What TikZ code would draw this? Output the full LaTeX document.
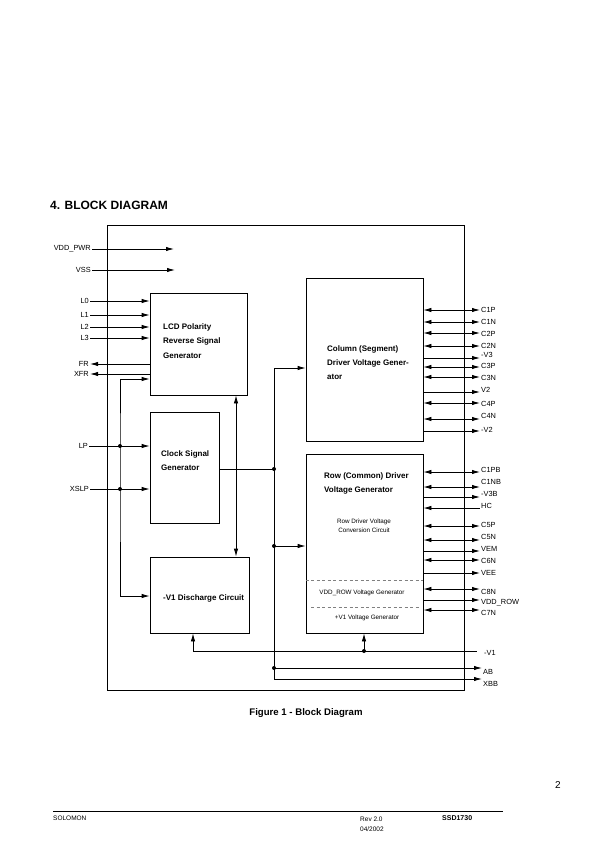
\documentclass[tikz,border=0pt]{standalone}
\usepackage{fontspec}
\setmainfont{Liberation Sans}
\usetikzlibrary{arrows.meta}

\begin{document}
\begin{tikzpicture}[x=1pt, y=-1pt, >={Latex[length=8pt,width=4.4pt]},
  blk/.style={draw, line width=0.8pt, inner sep=0pt},
  blktxt/.style={anchor=west, align=left, inner sep=0pt, font=\fontsize{8}{14.3}\selectfont\bfseries},
  subtxt/.style={align=center, inner sep=0pt, font=\fontsize{6.3}{8.6}\selectfont},
  pin/.style={inner sep=1pt, font=\fontsize{7.4}{8}\selectfont},
  wire/.style={line width=0.8pt},
  sep/.style={gray, line width=0.5pt, dash pattern=on 3pt off 2.5pt},
  jdot/.style={fill=black}]
\useasboundingbox (0,0) rectangle (595,842);

% heading and caption
\node[anchor=west, inner sep=0pt, font=\fontsize{12}{14}\selectfont\bfseries] (title) at (50,205) {4. BLOCK DIAGRAM};
\node[inner sep=0pt, font=\fontsize{9.6}{11}\selectfont\bfseries] (caption) at (306,713) {Figure 1 - Block Diagram};

% blocks
\node[blk, minimum width=357pt, minimum height=465pt] (frame) at (285.5,457.5) {};
\node[blk, minimum width=97pt, minimum height=102pt] (lcd) at (198.5,344) {};
\node[blk, minimum width=69pt, minimum height=111pt] (clk) at (184.5,467.5) {};
\node[blk, minimum width=99pt, minimum height=76pt] (dis) at (199.5,595) {};
\node[blk, minimum width=117pt, minimum height=163pt] (col) at (364.5,359.5) {};
\node[blk, minimum width=117pt, minimum height=179pt] (row) at (364.5,543.5) {};

\node[blktxt] (lcdtxt) at (163,341) {LCD Polarity\\Reverse Signal\\Generator};
\node[blktxt] (clktxt) at (161,460.5) {Clock Signal\\Generator};
\node[blktxt] (distxt) at (163,598) {-V1 Discharge Circuit};
\node[blktxt] (coltxt) at (327,362.5) {Column (Segment)\\Driver Voltage Gener-\\ator};
\node[blktxt] (rowtxt) at (324,483.5) {Row (Common) Driver\\Voltage Generator};
\node[subtxt] (convtxt) at (364,526) {Row Driver Voltage\\Conversion Circuit};
\node[subtxt] (vddtxt) at (362,593) {VDD\_ROW Voltage Generator};
\node[subtxt] (v1txt) at (367,618) {+V1 Voltage Generator};
\draw[sep] (row.west |- 0,580) -- (row.east |- 0,580);
\draw[sep] (311,607) -- (420,607);

% left side signals
\node[pin, anchor=east] (vddpwr) at (92,249) {VDD\_PWR};
\node[pin, anchor=east] (vss) at (92,270) {VSS};
\coordinate (vddend) at (174,249);
\coordinate (vssend) at (175,270);
\draw[wire,->] (vddpwr.east) -- (vddend);
\draw[wire,->] (vss.east) -- (vssend);
\foreach \id/\txt/\y in {l0/L0/301, l1/L1/315, l2/L2/327, l3/L3/338}
{
  \node[pin, anchor=east] (\id) at (90,\y) {\txt};
  \draw[wire,->] (\id.east) -- (lcd.west |- \id.east);
}
\node[pin, anchor=east] (fr) at (90,364) {FR};
\node[pin, anchor=east] (xfr) at (90,374) {XFR};
\draw[wire,->] (lcd.west |- fr.east) -- (fr.east);
\draw[wire,->] (lcd.west |- xfr.east) -- (xfr.east);
\node[pin, anchor=east] (lp) at (89,446) {LP};
\node[pin, anchor=east] (xslp) at (90,489) {XSLP};
\draw[wire,->] (lp.east) -- (clk.west |- lp.east);
\draw[wire,->] (xslp.east) -- (clk.west |- xslp.east);

% junctions
\coordinate (jlp) at (120,446);
\coordinate (jxslp) at (120,489);
\coordinate (jclk) at (274,469);
\coordinate (btop) at (274,368);
\coordinate (jrow) at (274,546);
\coordinate (jab) at (274,668);
\coordinate (bbot) at (274,679);
\coordinate (vlink) at (236,480);
\coordinate (v1a) at (193,651);
\coordinate (jv1) at (364,651);
\coordinate (v1end) at (477,651);

\draw[wire,<->] (lcd.west |- 0,379) -| (jlp) -- (jxslp) |- (dis.west |- 0,596);
\draw[wire,<->] (lcd.south -| vlink) -- (dis.north -| vlink);
\draw[wire] (clk.east |- jclk) -- (jclk);
\draw[wire,->] (bbot) -- (btop) -- (col.west |- btop);
\draw[wire,->] (jrow) -- (row.west |- jrow);
\draw[wire] (v1a) -- (v1end);
\draw[wire,->] (v1a) -- (dis.south -| v1a);
\draw[wire,->] (jv1) -- (row.south -| jv1);

% right side signals
\foreach \id/\txt/\ly/\ty/\tp in {c1p/C1P/310/310/<->, c1n/C1N/322/322/<->,
  c2p/C2P/333/334/<->, c2n/C2N/346/346/<->, v3/-V3/358/355/->,
  c3p/C3P/367/366/<->, c3n/C3N/377/378/<->, v2/V2/392/390/->,
  c4p/C4P/403/404/<->, c4n/C4N/419/416/<->, mv2/-V2/431/430/->}
{
  \node[pin, anchor=west] (\id) at (480,\ty) {\txt};
  \draw[wire,\tp] (col.east |- 0,\ly) -- (\id.west |- 0,\ly);
}
\foreach \id/\txt/\ly/\ty/\tp in {c1pb/C1PB/472/470/<->, c1nb/C1NB/487/482/<->,
  v3b/-V3B/497/494/->, hc/HC/508/506/<-, c5p/C5P/526/525/<->,
  c5n/C5N/540/537/<->, vem/VEM/551/549/->, c6n/C6N/560/561/<->,
  vee/VEE/573/573/->, c8n/C8N/589/592/<->, vddrow/VDD\_ROW/600/603/->,
  c7n/C7N/610/613/<->}
{
  \node[pin, anchor=west] (\id) at (480,\ty) {\txt};
  \draw[wire,\tp] (row.east |- 0,\ly) -- (\id.west |- 0,\ly);
}
\node[pin, anchor=west] (v1) at (483,653) {-V1};
\node[pin, anchor=west] (ab) at (482,672) {AB};
\node[pin, anchor=west] (xbb) at (482,684) {XBB};
\draw[wire,->] (jab) -- (ab.west |- jab);
\draw[wire,->] (bbot) -- (xbb.west |- bbot);

\foreach \j in {jlp, jxslp, jclk, jrow, jab, jv1}
  \fill[jdot] (\j) circle (2pt);

% footer
\coordinate (fl) at (53,811);
\coordinate (fr2) at (503,811);
\draw[line width=0.6pt] (fl) -- (fr2);
\node[anchor=west, inner sep=0pt, font=\fontsize{6.5}{8}\selectfont] (solomon) at (53,818) {SOLOMON};
\node[anchor=west, inner sep=0pt, font=\fontsize{6.5}{8}\selectfont] (rev) at (360,819) {Rev 2.0};
\node[anchor=west, inner sep=0pt, font=\fontsize{6.5}{8}\selectfont] (date) at (360,829) {04/2002};
\node[anchor=west, inner sep=0pt, font=\fontsize{7}{8}\selectfont\bfseries] (part) at (442,818) {SSD1730};
\node[inner sep=0pt, font=\fontsize{10}{12}\selectfont] (page) at (558,785) {2};
\end{tikzpicture}
\end{document}
